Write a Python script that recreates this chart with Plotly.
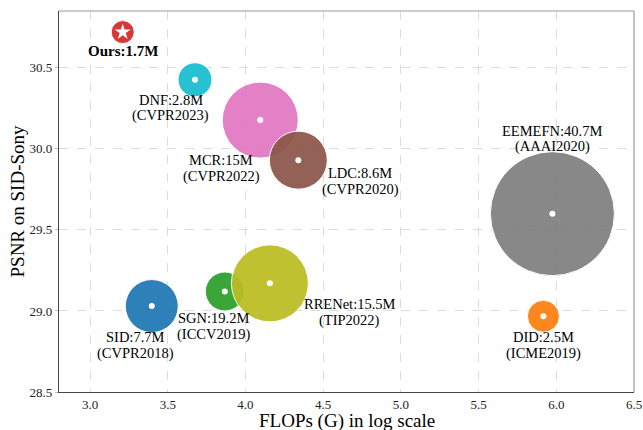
import plotly.graph_objects as go

# ---- data ----
methods = ["Ours", "DNF", "MCR", "LDC", "EEMEFN", "DID", "SID", "SGN", "RRENet"]
params = ["1.7M", "2.8M", "15M", "8.6M", "40.7M", "2.5M", "7.7M", "19.2M", "15.5M"]
venues = ["", "(CVPR2023)", "(CVPR2022)", "(CVPR2020)", "(AAAI2020)", "(ICME2019)",
          "(CVPR2018)", "(ICCV2019)", "(TIP2022)"]
flops_log = [3.21, 3.675, 4.095, 4.34, 5.975, 5.917, 3.397, 3.867, 4.157]
psnr = [30.72, 30.426, 30.177, 29.93, 29.60, 28.967, 29.03, 29.12, 29.17]
bubble_diam = [23, 34, 76, 58, 124, 32, 53, 39, 77]
x_title = "FLOPs (G) in log scale"
y_title = "PSNR on SID-Sony"

# ---- style ----
colors = ["#d62728", "#17becf", "#e377c2", "#8c564b", "#7f7f7f", "#ff7f0e",
          "#1f77b4", "#2ca02c", "#bcbd22"]
# label offsets in pixels (dx, dy of line 1, dy of line 2), plotly y up
offsets = [(0, -19, None), (-24, -20, -36), (-39, -40, -56), (62, -13, -29),
           (0, 83, 67), (0, -21, -37), (-16, -31, -47), (-11, -27, -43), (80, -21, -37)]
FONT = "Liberation Serif, Times New Roman, serif"
LABEL_SIZE = 14.5

fig = go.Figure()
fig.add_trace(go.Scatter(
    x=flops_log, y=psnr, mode="markers",
    marker=dict(size=bubble_diam, color=colors, opacity=0.93,
                line=dict(color="white", width=1)),
    hoverinfo="skip", showlegend=False))
# centre dots
fig.add_trace(go.Scatter(
    x=flops_log[1:], y=psnr[1:], mode="markers",
    marker=dict(size=6, color="white", line=dict(width=0)),
    hoverinfo="skip", showlegend=False))
fig.add_trace(go.Scatter(
    x=flops_log[:1], y=psnr[:1], mode="markers",
    marker=dict(size=12, color="white", symbol="star", line=dict(width=0)),
    hoverinfo="skip", showlegend=False))

annotations = []
for i, m in enumerate(methods):
    dx, dy1, dy2 = offsets[i]
    txt1 = f"{m}:{params[i]}"
    if i == 0:
        txt1 = f"<b>{txt1}</b>"
    annotations.append(dict(x=flops_log[i], y=psnr[i], xref="x", yref="y",
                            text=txt1, showarrow=False, xshift=dx, yshift=dy1,
                            xanchor="center", yanchor="middle", borderpad=0,
                            font=dict(family=FONT, size=LABEL_SIZE if i else 15, color="black")))
    if venues[i]:
        annotations.append(dict(x=flops_log[i], y=psnr[i], xref="x", yref="y",
                                text=venues[i], showarrow=False, xshift=dx, yshift=dy2,
                                xanchor="center", yanchor="middle", borderpad=0,
                                font=dict(family=FONT, size=LABEL_SIZE, color="black")))

# axis titles as paper annotations for exact placement
annotations.append(dict(x=0.5, y=0, xref="paper", yref="paper", yshift=-29,
                        text=x_title, showarrow=False, xanchor="center", yanchor="middle",
                        borderpad=0, font=dict(family=FONT, size=19, color="black")))
annotations.append(dict(x=0, y=0.5, xref="paper", yref="paper", xshift=-42,
                        text=y_title, showarrow=False, textangle=-90,
                        xanchor="center", yanchor="middle",
                        borderpad=0, font=dict(family=FONT, size=19, color="black")))

fig.update_layout(
    width=643, height=430,
    margin=dict(l=59, r=9, t=11, b=38, autoexpand=False),
    paper_bgcolor="white", plot_bgcolor="white",
    font=dict(family=FONT, color="black"),
    annotations=annotations,
    shapes=[
        dict(type="line", xref="paper", yref="paper", x0=0, x1=1, y0=1, y1=1,
             line=dict(color="#999999", width=1.2)),
        dict(type="line", xref="paper", yref="paper", x0=1, x1=1, y0=0, y1=1,
             line=dict(color="#999999", width=1.2)),
    ],
)
fig.update_xaxes(
    range=[2.8, 6.5], tickvals=[3.0, 3.5, 4.0, 4.5, 5.0, 5.5, 6.0, 6.5],
    ticktext=["3.0", "3.5", "4.0", "4.5", "5.0", "5.5", "6.0", "6.5"],
    tickfont=dict(family=FONT, size=13, color="#222"), automargin=False,
    showgrid=True, gridcolor="#dcdcdc", griddash="dash", gridwidth=1,
    showline=True, linecolor="#444", linewidth=1.2, zeroline=False,
    ticks="",
)
fig.update_yaxes(
    range=[28.5, 30.85], tickvals=[28.5, 29.0, 29.5, 30.0, 30.5],
    ticktext=["28.5", "29.0", "29.5", "30.0", "30.5"],
    tickfont=dict(family=FONT, size=13, color="#222"), automargin=False,
    showgrid=True, gridcolor="#dcdcdc", griddash="dash", gridwidth=1,
    showline=True, linecolor="#444", linewidth=1.2, zeroline=False,
    ticks="outside", ticklen=3, tickcolor="#bbbbbb",
)

fig.write_html("out.html", config={"displayModeBar": False},
               post_script="document.body.style.margin='0';document.body.style.overflow='hidden';")
